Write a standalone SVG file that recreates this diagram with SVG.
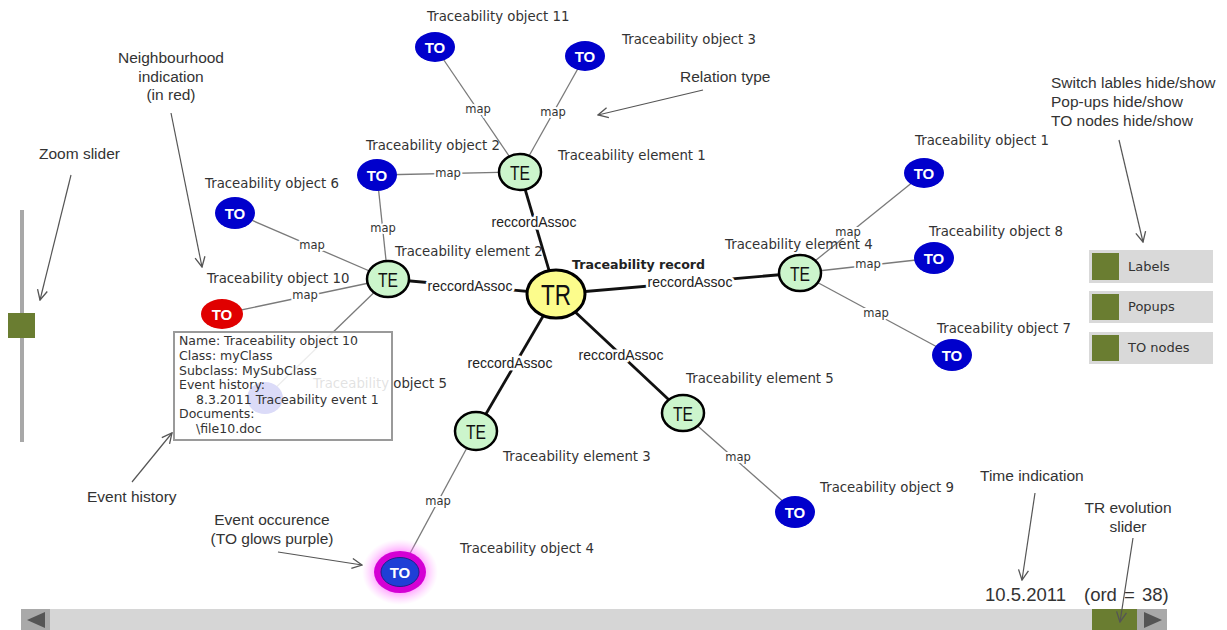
<svg xmlns="http://www.w3.org/2000/svg" width="1227" height="630" viewBox="0 0 1227 630">
<defs>
<style>
.to{fill:#0000cc}
.tor{fill:#e00000}
.tot{font-family:"Liberation Sans",Arial,sans-serif;font-weight:bold;font-size:15px;fill:#fff;text-anchor:middle}
.te{fill:#ccf5cc;stroke:#000;stroke-width:2.5}
.tet{font-family:"Liberation Sans",Arial,sans-serif;font-size:21px;fill:#111;text-anchor:middle}
.lbl{font-family:"DejaVu Sans",Verdana,sans-serif;font-size:13.3px;fill:#333}
.map{font-family:"DejaVu Sans",Verdana,sans-serif;font-size:11.5px;fill:#333;text-anchor:middle;paint-order:stroke;stroke:#fff;stroke-width:4px;stroke-linejoin:round}
.ra{font-family:"Liberation Sans",Arial,sans-serif;font-size:14px;fill:#222;text-anchor:middle;paint-order:stroke;stroke:#fff;stroke-width:5px;stroke-linejoin:round}
.em{stroke:#7a7a7a;stroke-width:1.3;fill:none}
.er{stroke:#111;stroke-width:2.8;fill:none}
.ann{font-family:"Liberation Sans",Arial,sans-serif;font-size:15.5px;fill:#333}
.big{font-family:"Liberation Sans",Arial,sans-serif;font-size:18.5px;fill:#333}
.anc{font-family:"Liberation Sans",Arial,sans-serif;font-size:15.5px;fill:#333;text-anchor:middle}
.arw{stroke:#555;stroke-width:1.2;fill:none;marker-end:url(#arr)}
.pop{font-family:"DejaVu Sans",Verdana,sans-serif;font-size:12.5px;fill:#333}
.btn{fill:#d9d9d9}
.grn{fill:#6a7d31}
.btt{font-family:"DejaVu Sans",Verdana,sans-serif;font-size:13px;fill:#333}
</style>
<marker id="arr" viewBox="0 0 12 12" refX="11" refY="6" markerWidth="12" markerHeight="12" orient="auto" markerUnits="userSpaceOnUse">
<path d="M1,1 L11,6 L1,11" fill="none" stroke="#555" stroke-width="1.3"/>
</marker>
<radialGradient id="glow" cx="50%" cy="50%" r="50%">
<stop offset="0.5" stop-color="#ff44ff" stop-opacity="0.7"/>
<stop offset="1" stop-color="#ff99ff" stop-opacity="0"/>
</radialGradient>
</defs>
<rect width="1227" height="630" fill="#fff"/>

<!-- connectors -->
<g id="connectors">
<line class="em" x1="435" y1="47" x2="520" y2="172"/>
<line class="em" x1="585" y1="56" x2="520" y2="172"/>
<line class="em" x1="377" y1="175" x2="520" y2="172"/>
<line class="em" x1="377" y1="175" x2="388" y2="279"/>
<line class="em" x1="235" y1="213" x2="388" y2="279"/>
<line class="em" x1="222" y1="314" x2="388" y2="279"/>
<line class="em" x1="388" y1="279" x2="265" y2="398"/>
<line class="em" x1="800" y1="273" x2="924" y2="173"/>
<line class="em" x1="800" y1="273" x2="934" y2="258"/>
<line class="em" x1="800" y1="273" x2="952" y2="355"/>
<line class="em" x1="476" y1="431" x2="400" y2="572"/>
<line class="em" x1="683" y1="413" x2="795" y2="512"/>
<line class="er" x1="520" y1="172" x2="556" y2="294"/>
<line class="er" x1="388" y1="279" x2="556" y2="294"/>
<line class="er" x1="556" y1="294" x2="800" y2="273"/>
<line class="er" x1="556" y1="294" x2="476" y2="431"/>
<line class="er" x1="556" y1="294" x2="683" y2="413"/>
<text class="map" x="478" y="113">map</text>
<text class="map" x="553" y="116">map</text>
<text class="map" x="448" y="177">map</text>
<text class="map" x="383" y="232">map</text>
<text class="map" x="312" y="249">map</text>
<text class="map" x="305" y="299">map</text>
<text class="map" x="848" y="236">map</text>
<text class="map" x="868" y="268">map</text>
<text class="map" x="876" y="317">map</text>
<text class="map" x="438" y="505">map</text>
<text class="map" x="738" y="461">map</text>
<text class="ra" x="534" y="227">reccordAssoc</text>
<text class="ra" x="470" y="291">reccordAssoc</text>
<text class="ra" x="690" y="287">reccordAssoc</text>
<text class="ra" x="510" y="368">reccordAssoc</text>
<text class="ra" x="621" y="360">reccordAssoc</text>
</g>

<!-- faded node behind popup -->
<g id="to5">
<ellipse cx="265" cy="398" rx="18" ry="16" class="to"/>
<text class="lbl" x="313" y="388">Traceability object 5</text>
</g>

<g id="to11"><ellipse cx="435" cy="47" rx="20" ry="15" class="to"/><text class="tot" x="435" y="52.5">TO</text><text class="lbl" x="427" y="21">Traceability object 11</text></g>
<g id="to3"><ellipse cx="585" cy="56" rx="20" ry="15" class="to"/><text class="tot" x="585" y="61.5">TO</text><text class="lbl" x="622" y="44">Traceability object 3</text></g>
<g id="to2"><ellipse cx="377" cy="175" rx="20" ry="16" class="to"/><text class="tot" x="377" y="180.5">TO</text><text class="lbl" x="366" y="150">Traceability object 2</text></g>
<g id="te1"><ellipse cx="520" cy="172" rx="21" ry="18" class="te"/><text class="tet" x="520" y="179.5" textLength="20" lengthAdjust="spacingAndGlyphs">TE</text><text class="lbl" x="558" y="160">Traceability element 1</text></g>
<g id="to6"><ellipse cx="235" cy="213" rx="20" ry="16" class="to"/><text class="tot" x="235" y="218.5">TO</text><text class="lbl" x="205" y="188">Traceability object 6</text></g>
<g id="te2"><ellipse cx="388" cy="279" rx="21" ry="18" class="te"/><text class="tet" x="388" y="286.5" textLength="20" lengthAdjust="spacingAndGlyphs">TE</text><text class="lbl" x="395" y="256">Traceability element 2</text></g>
<g id="to10"><ellipse cx="222" cy="314" rx="21" ry="15" class="tor"/><text class="tot" x="222" y="319.5">TO</text><text class="lbl" x="207" y="283">Traceability object 10</text></g>
<g id="tr"><ellipse cx="556" cy="294" rx="29" ry="24" fill="#fcfc8c" stroke="#000" stroke-width="3"/><text x="556" y="304.5" font-family="Liberation Sans, Arial, sans-serif" font-size="29" fill="#111" text-anchor="middle" textLength="30" lengthAdjust="spacingAndGlyphs">TR</text><text x="572" y="269" font-family="DejaVu Sans, Verdana, sans-serif" font-size="12.6" font-weight="bold" fill="#222">Traceability record</text></g>
<g id="te4"><ellipse cx="800" cy="273" rx="21" ry="18" class="te"/><text class="tet" x="800" y="280.5" textLength="20" lengthAdjust="spacingAndGlyphs">TE</text><text class="lbl" x="725" y="249">Traceability element 4</text></g>
<g id="to1"><ellipse cx="924" cy="173" rx="20" ry="15" class="to"/><text class="tot" x="924" y="178.5">TO</text><text class="lbl" x="915" y="145">Traceability object 1</text></g>
<g id="to8"><ellipse cx="934" cy="258" rx="20" ry="16" class="to"/><text class="tot" x="934" y="263.5">TO</text><text class="lbl" x="929" y="236">Traceability object 8</text></g>
<g id="to7"><ellipse cx="952" cy="355" rx="20" ry="16" class="to"/><text class="tot" x="952" y="360.5">TO</text><text class="lbl" x="937" y="333">Traceability object 7</text></g>
<g id="te5"><ellipse cx="683" cy="413" rx="21" ry="18" class="te"/><text class="tet" x="683" y="420.5" textLength="20" lengthAdjust="spacingAndGlyphs">TE</text><text class="lbl" x="686" y="383">Traceability element 5</text></g>
<g id="to9"><ellipse cx="795" cy="512" rx="20" ry="16" class="to"/><text class="tot" x="795" y="517.5">TO</text><text class="lbl" x="820" y="492">Traceability object 9</text></g>
<g id="te3"><ellipse cx="476" cy="431" rx="21" ry="19" class="te"/><text class="tet" x="476" y="438.5" textLength="20" lengthAdjust="spacingAndGlyphs">TE</text><text class="lbl" x="503" y="461">Traceability element 3</text></g>
<g id="to4">
<ellipse cx="400" cy="572" rx="38" ry="33" fill="url(#glow)"/>
<ellipse cx="400" cy="572" rx="26" ry="21" fill="#d400d4"/>
<ellipse cx="400" cy="572" rx="19" ry="14.5" fill="#1f3fd6" stroke="#20208a" stroke-width="1"/>
<text class="tot" x="400" y="577.5">TO</text>
<text class="lbl" x="460" y="553">Traceability object 4</text>
</g>

<!-- popup -->
<g id="popup">
<rect x="174" y="332" width="218" height="108" fill="#fff" fill-opacity="0.86" stroke="#9a9a9a" stroke-width="2"/>
<text class="pop" x="179" y="345">Name: Traceability object 10</text>
<text class="pop" x="179" y="360">Class: myClass</text>
<text class="pop" x="179" y="375">Subclass: MySubClass</text>
<text class="pop" x="179" y="389">Event history:</text>
<text class="pop" x="196" y="404">8.3.2011 Traceability event 1</text>
<text class="pop" x="179" y="418">Documents:</text>
<text class="pop" x="196" y="433">\file10.doc</text>
</g>

<!-- zoom slider -->
<g id="zoom-slider">
<rect x="20" y="210" width="4" height="232" fill="#a8a8a8"/>
<rect x="8" y="313" width="27" height="25" class="grn"/>
</g>

<!-- buttons -->
<g id="btn-labels"><rect x="1089" y="250" width="124" height="33" class="btn"/><rect x="1092" y="253" width="27" height="27" class="grn"/><text class="btt" x="1128" y="271">Labels</text></g>
<g id="btn-popups"><rect x="1089" y="291" width="124" height="32" class="btn"/><rect x="1092" y="294" width="27" height="26" class="grn"/><text class="btt" x="1128" y="311">Popups</text></g>
<g id="btn-tonodes"><rect x="1089" y="332" width="124" height="32" class="btn"/><rect x="1092" y="335" width="27" height="26" class="grn"/><text class="btt" x="1128" y="352">TO nodes</text></g>

<!-- evolution scrollbar -->
<g id="evolution-slider">
<rect x="50" y="609" width="1087" height="21" fill="#d6d6d6"/>
<rect x="21" y="609" width="29" height="21" fill="#a9a9a9"/>
<polygon points="27,620 45,612 45,628" fill="#555"/>
<rect x="1137" y="609" width="30" height="21" fill="#a9a9a9"/>
<polygon points="1162,620 1144,612 1144,628" fill="#555"/>
<rect x="1092" y="609" width="45" height="21" class="grn"/>
</g>

<!-- annotations -->
<g id="annotations">
<text class="anc" x="171" y="63">Neighbourhood</text>
<text class="anc" x="171" y="82">indication</text>
<text class="anc" x="171" y="100">(in red)</text>
<line class="arw" x1="171" y1="113" x2="202" y2="267"/>
<text class="ann" x="39" y="159">Zoom slider</text>
<line class="arw" x1="71" y1="175" x2="40" y2="300"/>
<text class="ann" x="680" y="82">Relation type</text>
<line class="arw" x1="703" y1="90" x2="598" y2="115"/>
<text class="ann" x="1051" y="88">Switch lables hide/show</text>
<text class="ann" x="1051" y="107">Pop-ups hide/show</text>
<text class="ann" x="1051" y="126">TO nodes hide/show</text>
<line class="arw" x1="1119" y1="140" x2="1143" y2="242"/>
<text class="ann" x="87" y="502">Event history</text>
<line class="arw" x1="132" y1="482" x2="172" y2="433"/>
<text class="anc" x="272" y="525">Event occurence</text>
<text class="anc" x="272" y="544">(TO glows purple)</text>
<line class="arw" x1="278" y1="552" x2="362" y2="565"/>
<text class="ann" x="980" y="481">Time indication</text>
<line class="arw" x1="1035" y1="493" x2="1022" y2="580"/>
<text class="big" x="985" y="601">10.5.2011</text>
<text class="big" x="1084" y="601" word-spacing="2">(ord = 38)</text>
<text class="anc" x="1128" y="513">TR evolution</text>
<text class="anc" x="1128" y="532">slider</text>
<line class="arw" x1="1133" y1="538" x2="1120" y2="622"/>
</g>
</svg>
